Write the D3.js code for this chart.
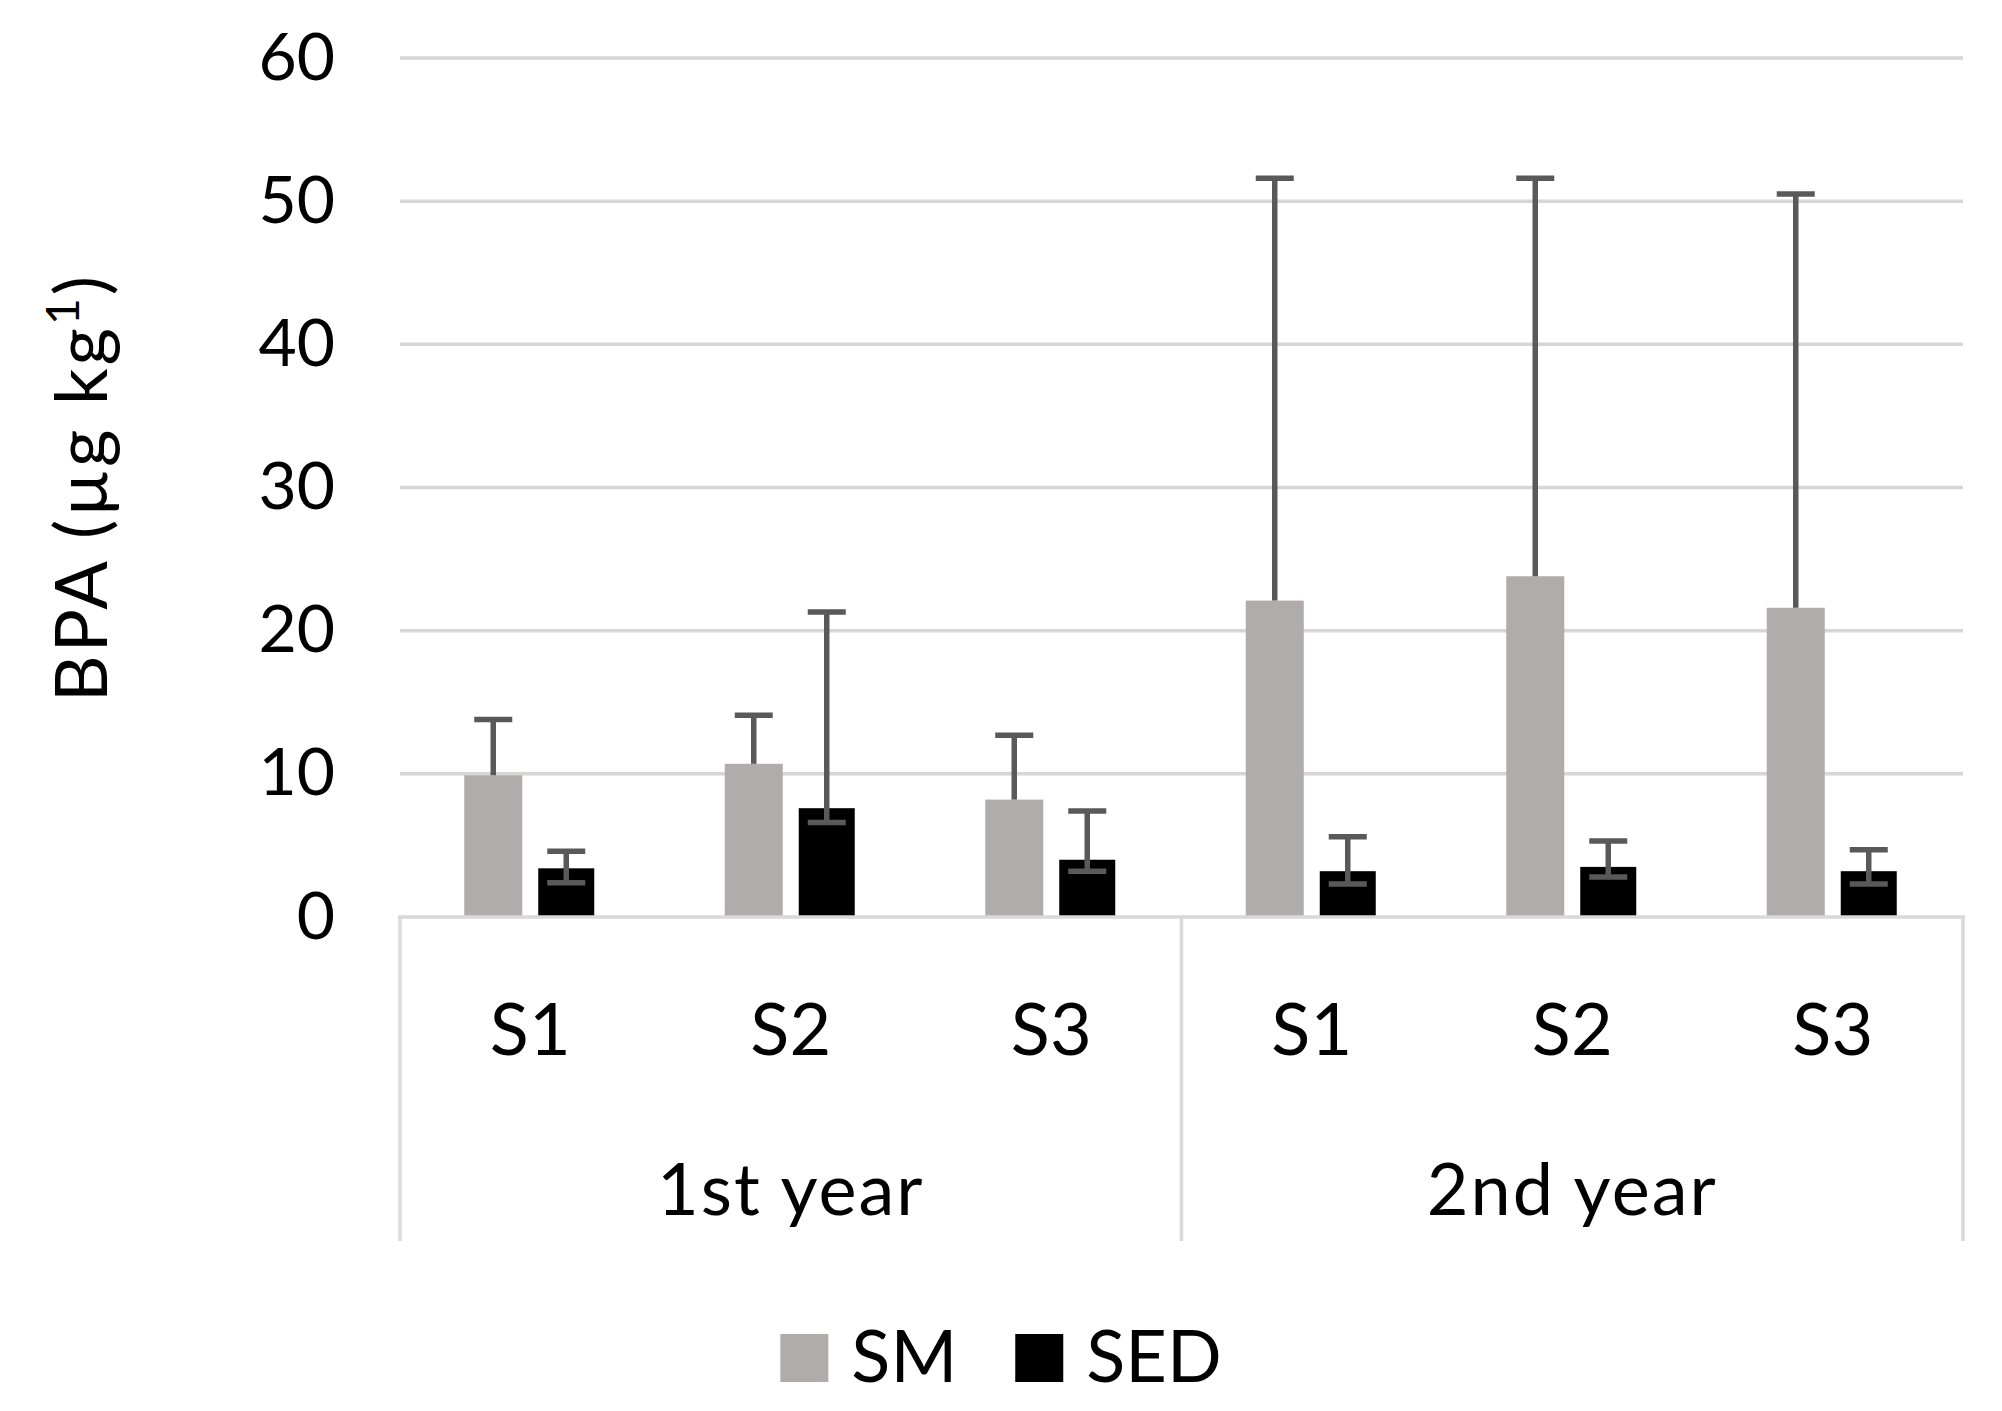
<!DOCTYPE html>
<html>
<head>
<meta charset="utf-8">
<script src="https://cdn.jsdelivr.net/npm/d3@7"></script>
<style>
    body { margin: 0; background: #fff; }
    text { font-family: Lato, "Open Sans", sans-serif; fill: #000; }
</style>
</head>
<body>
<svg id="chart"></svg>
<script>
// --- data ---
const groups = ["1st year", "2nd year"];
const sites = ["S1", "S2", "S3"];
const seriesNames = ["SM", "SED"];
const seriesColors = ["#afacab", "#000000"];

const smValues   = [9.9, 10.7, 8.2, 22.1, 23.8, 21.6];
const smErrPlus  = [3.9, 3.4, 4.5, 29.5, 27.8, 28.9];
const sedValues  = [3.4, 7.6, 4.0, 3.2, 3.5, 3.2];
const sedErrPlus = [1.2, 13.7, 3.4, 2.4, 1.8, 1.5];
const sedErrMinus = [1.0, 1.0, 0.8, 0.9, 0.7, 0.9];

const yTicks = [0, 10, 20, 30, 40, 50, 60];

// 1. Setup
const width = 2002, height = 1411;
const margin = { top: 58, right: 39, bottom: 494, left: 400 };
const plotBottom = height - margin.bottom;

const svg = d3.select("#chart")
    .attr("width", width)
    .attr("height", height);

// one row per category (group x site)
const rows = [];
groups.forEach((g, gi) => {
    sites.forEach((s, si) => {
        const i = gi * sites.length + si;
        rows.push({
            key: i, group: g, site: s,
            sm: smValues[i], smPlus: smErrPlus[i],
            sed: sedValues[i], sedPlus: sedErrPlus[i], sedMinus: sedErrMinus[i]
        });
    });
});

// 2. Scales
const x = d3.scaleBand()
    .domain(rows.map(d => d.key))
    .range([margin.left, width - margin.right])
    .padding(0);

const xGroup = d3.scaleBand()
    .domain(groups)
    .range([margin.left, width - margin.right])
    .padding(0);

const y = d3.scaleLinear()
    .domain([0, 60])
    .range([plotBottom, margin.top]);

const barW = 58, barGap = 16;
const center = d => x(d.key) + x.bandwidth() / 2;

// 3. Gridlines
svg.append("g")
    .selectAll("line")
    .data(yTicks.filter(t => t > 0))
    .join("line")
    .attr("x1", margin.left)
    .attr("x2", width - margin.right)
    .attr("y1", d => y(d))
    .attr("y2", d => y(d))
    .attr("stroke", "#d6d6d6")
    .attr("stroke-width", 3.5);

// y tick labels
const yAxis = d3.axisLeft(y).tickValues(yTicks).tickSize(0).tickPadding(0);
const yg = svg.append("g")
    .attr("transform", `translate(335,0)`)
    .call(yAxis);
yg.select(".domain").remove();
yg.selectAll("text")
    .attr("font-size", 66)
    .attr("font-family", "Lato, sans-serif")
    .attr("fill", "#000");

// 4. Bars
svg.append("g")
    .selectAll("rect")
    .data(rows)
    .join("rect")
    .attr("x", d => center(d) - barGap / 2 - barW)
    .attr("y", d => y(d.sm))
    .attr("width", barW)
    .attr("height", d => y(0) - y(d.sm))
    .attr("fill", seriesColors[0]);

svg.append("g")
    .selectAll("rect")
    .data(rows)
    .join("rect")
    .attr("x", d => center(d) + barGap / 2)
    .attr("y", d => y(d.sed))
    .attr("width", barW - 2)
    .attr("height", d => y(0) - y(d.sed))
    .attr("fill", seriesColors[1]);

// 5. Error bars
const errColor = "#595959", errW = 5.5, capW = 38;
const err = svg.append("g").attr("stroke", errColor).attr("stroke-width", errW);

rows.forEach(d => {
    // SM: plus only
    const cx = center(d) - barGap / 2 - barW / 2;
    err.append("line").attr("x1", cx).attr("x2", cx)
        .attr("y1", y(d.sm)).attr("y2", y(d.sm + d.smPlus));
    err.append("line").attr("x1", cx - capW / 2).attr("x2", cx + capW / 2)
        .attr("y1", y(d.sm + d.smPlus)).attr("y2", y(d.sm + d.smPlus));

    // SED: plus and minus
    const sx = center(d) + barGap / 2 + (barW - 2) / 2;
    const top = d.sed + d.sedPlus, bot = d.sed - d.sedMinus;
    err.append("line").attr("x1", sx).attr("x2", sx)
        .attr("y1", y(bot)).attr("y2", y(top));
    [top, bot].forEach(v => {
        err.append("line").attr("x1", sx - capW / 2).attr("x2", sx + capW / 2)
            .attr("y1", y(v)).attr("y2", y(v));
    });
});

// 6. Category axis (two levels)
const axisColor = "#d9d9d9";
svg.append("line")
    .attr("x1", margin.left - 2).attr("x2", width - margin.right + 2)
    .attr("y1", y(0)).attr("y2", y(0))
    .attr("stroke", axisColor).attr("stroke-width", 3.5);

const dividers = [margin.left, ...groups.map(g => xGroup(g) + xGroup.bandwidth())];
svg.append("g")
    .selectAll("line")
    .data(dividers)
    .join("line")
    .attr("x1", d => d).attr("x2", d => d)
    .attr("y1", y(0)).attr("y2", 1241)
    .attr("stroke", axisColor).attr("stroke-width", 3.5);

svg.append("g")
    .selectAll("text")
    .data(rows)
    .join("text")
    .attr("x", d => center(d))
    .attr("y", 1055)
    .attr("text-anchor", "middle")
    .attr("font-size", 72)
    .text(d => d.site);

svg.append("g")
    .selectAll("text")
    .data(groups)
    .join("text")
    .attr("x", d => xGroup(d) + xGroup.bandwidth() / 2)
    .attr("y", 1215)
    .attr("text-anchor", "middle")
    .attr("font-size", 72)
    .attr("letter-spacing", 2)
    .text(d => d);

// 7. Y axis title
const title = svg.append("text")
    .attr("transform", `translate(107, ${(y(0) + y(60)) / 2}) rotate(-90)`)
    .attr("text-anchor", "middle")
    .attr("font-size", 72)
    .attr("letter-spacing", 3);
title.append("tspan").text("BPA (µg kg");
title.append("tspan").attr("font-size", 46).attr("dy", -28).text("1");
title.append("tspan").attr("dy", 28).text(")");

// 8. Legend
const legend = svg.append("g");
const boxSize = 48, boxGap = 23, itemGap = 58, legendBase = 1382;
let lx = 0;
seriesNames.forEach((name, i) => {
    const item = legend.append("g").attr("transform", `translate(${lx},0)`);
    item.append("rect")
        .attr("x", 0).attr("y", legendBase - boxSize)
        .attr("width", boxSize).attr("height", boxSize)
        .attr("fill", seriesColors[i]);
    const t = item.append("text")
        .attr("x", boxSize + boxGap).attr("y", legendBase)
        .attr("font-size", 72)
        .text(name);
    lx += boxSize + boxGap + t.node().getComputedTextLength() + itemGap;
});
const legendW = lx - itemGap;
legend.attr("transform", `translate(${(width - legendW) / 2},0)`);
</script>
</body>
</html>
